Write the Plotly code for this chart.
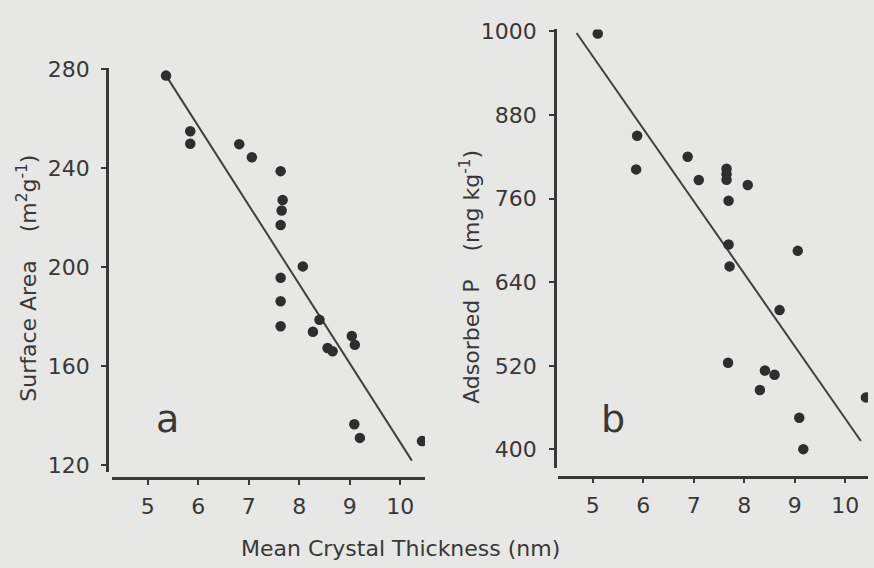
import plotly.graph_objects as go

# ---------------- data ----------------
x_ticks = [5, 6, 7, 8, 9, 10]
a_yticks = [120, 160, 200, 240, 280]
b_yticks = [400, 520, 640, 760, 880, 1000]

a_thickness = [5.36, 5.84, 5.84, 6.81, 7.06, 7.63, 7.67, 7.65, 7.63, 8.07, 7.63,
               7.63, 7.63, 8.40, 8.27, 8.56, 8.66, 9.04, 9.10, 9.09, 9.20, 10.43]
a_surface = [277.4, 254.9, 249.9, 249.7, 244.4, 238.8, 227.1, 222.9, 217.0, 200.3, 195.7,
             186.2, 176.1, 178.7, 173.9, 167.3, 166.0, 172.2, 168.6, 136.5, 131.0, 129.7]
a_fit_x = [5.36, 10.23]
a_fit_y = [277.4, 121.8]

b_thickness = [5.10, 5.88, 5.86, 6.88, 7.10, 7.65, 7.65, 7.65, 8.07, 7.69, 7.69,
               9.06, 7.71, 8.70, 7.68, 8.41, 8.60, 8.31, 10.41, 9.09, 9.17]
b_adsorbed = [996.8, 850.1, 801.9, 820.0, 786.6, 803.0, 795.0, 787.0, 779.6, 756.8, 694.1,
              685.0, 662.7, 600.0, 524.3, 513.2, 507.2, 485.3, 474.7, 445.5, 400.4]
b_fit_x = [4.68, 10.31]
b_fit_y = [997.6, 412.1]

x_title = "Mean Crystal Thickness (nm)"
a_ytitle = "Surface Area\u00a0\u00a0\u00a0\u00a0(m<sup>2</sup>g<sup>-1</sup>)"
b_ytitle = "Adsorbed P\u00a0\u00a0\u00a0\u00a0(mg kg<sup>-1</sup>)"

# ---------------- styling ----------------
W, H = 874, 568
BG = "#e7e7e5"
INK = "#383838"
DOT = "#2e2e2e"
FONT = "DejaVu Sans"

def fx(px):
    return px / W

def fy(py):
    return 1 - py / H

fig = go.Figure()

fig.add_trace(go.Scatter(x=a_fit_x, y=a_fit_y, mode="lines",
                         line=dict(color="#404040", width=2),
                         xaxis="x", yaxis="y", showlegend=False))
fig.add_trace(go.Scatter(x=a_thickness, y=a_surface, mode="markers",
                         marker=dict(color=DOT, size=10.5),
                         xaxis="x", yaxis="y", showlegend=False))
fig.add_trace(go.Scatter(x=b_fit_x, y=b_fit_y, mode="lines",
                         line=dict(color="#404040", width=2),
                         xaxis="x2", yaxis="y2", showlegend=False))
fig.add_trace(go.Scatter(x=b_thickness, y=b_adsorbed, mode="markers",
                         marker=dict(color=DOT, size=10.5),
                         xaxis="x2", yaxis="y2", showlegend=False))

axis_common = dict(
    showline=True, linecolor=INK, linewidth=2.5,
    ticks="outside", ticklen=5, tickwidth=2, tickcolor=INK,
    showgrid=False, zeroline=False,
    tickfont=dict(family=FONT, size=22, color=INK),
    fixedrange=True,
)

fig.update_layout(
    width=W, height=H,
    margin=dict(l=0, r=0, t=0, b=0),
    paper_bgcolor=BG, plot_bgcolor=BG,
    xaxis=dict(domain=[fx(112), fx(425)], range=[4.29, 10.49],
               anchor="free", position=fy(481.7),
               tickvals=x_ticks, ticklabelstandoff=3, **axis_common),
    yaxis=dict(domain=[fy(475), fy(58.7)], range=[117.3, 280.5],
               anchor="free", position=fx(107),
               tickvals=a_yticks, ticklabelstandoff=7, **axis_common),
    xaxis2=dict(domain=[fx(558), fx(868)], range=[4.313, 10.451],
                anchor="free", position=fy(480),
                tickvals=x_ticks, ticklabelstandoff=3, **axis_common),
    yaxis2=dict(domain=[fy(471), fy(19)], range=[373.5, 1002.8],
                anchor="free", position=fx(555),
                tickvals=b_yticks, ticklabelstandoff=8, **axis_common),
    annotations=[
        dict(text=x_title, x=fx(400), y=fy(554), xref="paper", yref="paper",
             showarrow=False, xanchor="center", yanchor="middle",
             font=dict(family=FONT, size=22, color=INK)),
        dict(text=a_ytitle, x=fx(27), y=fy(276), xref="paper", yref="paper",
             showarrow=False, textangle=-90, xanchor="center", yanchor="middle",
             font=dict(family=FONT, size=22, color=INK)),
        dict(text=b_ytitle, x=fx(470), y=fy(274), xref="paper", yref="paper",
             showarrow=False, textangle=-90, xanchor="center", yanchor="middle",
             font=dict(family=FONT, size=22, color=INK)),
        dict(text="a", x=fx(167), y=fy(421), xref="paper", yref="paper",
             showarrow=False, xanchor="center", yanchor="middle",
             font=dict(family=FONT, size=38, color=INK)),
        dict(text="b", x=fx(613), y=fy(421), xref="paper", yref="paper",
             showarrow=False, xanchor="center", yanchor="middle",
             font=dict(family=FONT, size=38, color=INK)),
    ],
)

fig.write_html("out.html",
               config={"displayModeBar": False},
               post_script="document.body.style.margin='0';document.body.style.overflow='hidden';")
